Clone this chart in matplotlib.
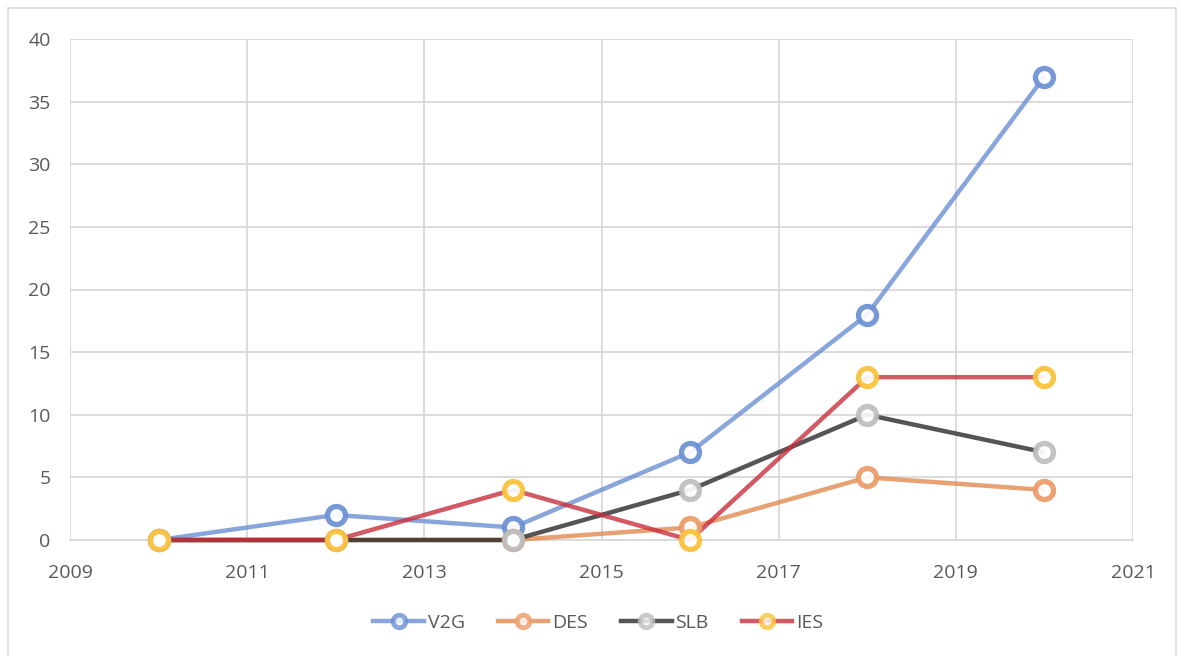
import matplotlib
matplotlib.use("Agg")
import matplotlib.pyplot as plt
from matplotlib.patches import Rectangle

years = [2010, 2012, 2014, 2016, 2018, 2020]
v2g = [0, 2, 1, 7, 18, 37]
des = [0, 0, 0, 1, 5, 4]
slb = [0, 0, 0, 4, 10, 7]
ies = [0, 0, 4, 0, 13, 13]

series = [
    ("V2G", v2g, "#6A8FD4", "#6A8FD4"),
    ("DES", des, "#E38A50", "#EB9A66"),
    ("SLB", slb, "#2A2A2A", "#BDBDBD"),
    ("IES", ies, "#C8303C", "#F9C23A"),
]

plt.rcParams['font.family'] = ['Open Sans', 'DejaVu Sans']
fig = plt.figure(figsize=(11.8, 6.56), dpi=100)
ax = fig.add_axes([70/1180, 1-540/656, (1133-70)/1180, (540-39)/656])

for name, vals, lc, mc in series:
    ax.plot(years, vals, color=lc, lw=3.2, alpha=0.8, zorder=3,
            solid_capstyle='butt', clip_on=False)
    ax.plot(years, vals, ls='none', marker='o', ms=13, mfc='white', mec=mc,
            mew=3.8, alpha=0.92, zorder=4, clip_on=False)

# legend handles
handles = []
for name, vals, lc, mc in series:
    h, = ax.plot([], [], color=lc, lw=3.2, alpha=0.8, marker='o', ms=9,
                 mfc='white', mec=mc, mew=3.5, label=name)
    handles.append(h)

ax.set_xlim(2009, 2021)
ax.set_ylim(0, 40)
ax.set_xticks(range(2009, 2022, 2))
ax.set_yticks(range(0, 41, 5))
ax.grid(True, color='#D9D9D9', lw=1.3)
ax.set_axisbelow(True)
for s in ['top', 'right', 'left']:
    ax.spines[s].set_visible(False)
ax.spines['bottom'].set_color('#D9D9D9')
ax.spines['bottom'].set_linewidth(1.3)
ax.tick_params(length=0, labelsize=14, colors='#595959')
ax.tick_params(axis='x', pad=17)
ax.tick_params(axis='y', pad=14)

leg = fig.legend(handles=handles, loc='center', bbox_to_anchor=(0.507, 1-623/656),
                 ncol=4, frameon=False, fontsize=14, handlelength=2.6,
                 columnspacing=1.7, handletextpad=0.2)
for t in leg.get_texts():
    t.set_color('#595959')

fig.patches.append(Rectangle((8/1180, -0.01), (1176-8)/1180, 1-8/656+0.01,
                             transform=fig.transFigure, fill=False,
                             edgecolor='#D9D9D9', lw=1.2))
fig.savefig("out.png", dpi=100)
